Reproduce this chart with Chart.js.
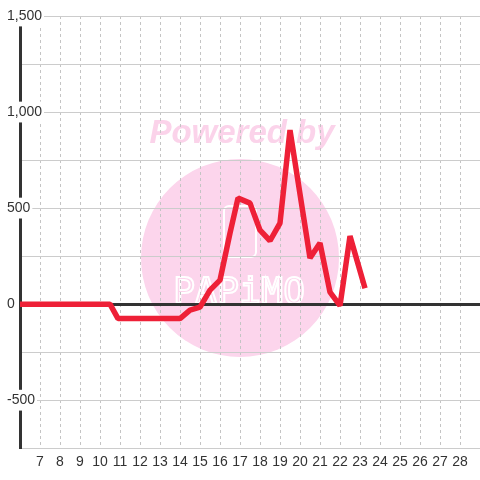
<!DOCTYPE html>
<html>
<head>
<meta charset="utf-8">
<script src="https://cdn.jsdelivr.net/npm/chart.js@4.4.0/dist/chart.umd.min.js"></script>
<style>
html,body{margin:0;padding:0;background:#fff}
#wrap{width:480px;height:480px}
</style>
</head>
<body>
<div id="wrap"><canvas id="mycanvas"></canvas></div>
<script>
// data
var days=[6,10.5,10.9,14,14.5,15,15.5,16,16.5,16.9,17.5,18,18.5,19,19.5,20.5,21,21.5,22,22.5,23.25];
var values=[0,0,-75,-75,-31,-16,73,125,370,552,526,385,330,422,906,240,318,62,-8,354,83];
var xTicks=[7,8,9,10,11,12,13,14,15,16,17,18,19,20,21,22,23,24,25,26,27,28];
var yTicks=[-750,-500,-250,0,250,500,750,1000,1250,1500];
var yLabels=[-500,0,500,1000,1500];

var points=[];
for(var i in days){
	points.push({x:days[i],y:values[i]});
}

// the pink watermark behind the grid
var watermark={
	id:'watermark',
	beforeDraw:function(chart){
		var ctx=chart.ctx;
		ctx.save();
		ctx.fillStyle='#fcd5ec';
		ctx.beginPath();
		ctx.arc(240,258,99,0,Math.PI*2);
		ctx.fill();

		ctx.strokeStyle='#fff';
		ctx.lineWidth=2;
		ctx.beginPath();
		ctx.roundRect(224,206,32,51,5);
		ctx.stroke();

		ctx.lineWidth=2;
		ctx.font='36px "DejaVu Sans Mono"';
		ctx.textAlign='center';
		ctx.textBaseline='alphabetic';
		var word='PAPiMO';
		for(var k=0;k<word.length;k++){
			ctx.strokeText(word[k],184+k*22,303);
		}

		ctx.fillStyle='#fbd3ea';
		ctx.font='italic bold 33px "Liberation Sans"';
		ctx.textBaseline='middle';
		ctx.fillText('Powered by',242,134);
		ctx.restore();
	}
};

var chartdata={
	datasets:[
		{
			data:points,
			borderColor:'#ee2037',
			borderWidth:5.5,
			borderJoinStyle:'bevel',
			pointRadius:0,
			fill:false,
			tension:0
		}
	]
};

var cxt=document.getElementById('mycanvas');
var lineGraph=new Chart(cxt,{
	type:'line',
	data:chartdata,
	plugins:[watermark],
	options:{
		responsive:true,
		maintainAspectRatio:false,
		animation:false,
		layout:{padding:{left:7,top:16,right:0,bottom:3}},
		plugins:{legend:{display:false},tooltip:{enabled:false}},
		scales:{
			x:{
				type:'linear',
				min:6,
				max:29,
				afterBuildTicks:function(s){
					s.ticks=xTicks.map(function(v){return {value:v};});
				},
				grid:{color:'#c4c4c4',lineWidth:1,drawTicks:false},
				border:{display:false,dash:[3,3]},
				ticks:{
					color:'#333',
					font:{family:'"Liberation Sans"',size:14},
					padding:6,
					maxRotation:0,
					autoSkip:false
				}
			},
			y:{
				type:'linear',
				min:-750,
				max:1500,
				afterBuildTicks:function(s){
					s.ticks=yTicks.map(function(v){return {value:v};});
				},
				afterFit:function(s){
					s.width=13;
					// labels run over the plot, so do not clip them to the axis box
					s._computeLabelArea=function(){return null;};
				},
				grid:{
					drawTicks:false,
					color:function(c){return c.tick&&c.tick.value===0?'#333':'#cccccc';},
					lineWidth:function(c){return c.tick&&c.tick.value===0?3:1;}
				},
				border:{display:true,color:'#333',width:3},
				ticks:{
					crossAlign:'far',
					padding:0,
					color:'#333',
					font:{family:'"Liberation Sans"',size:14},
					showLabelBackdrop:true,
					backdropColor:'#fff',
					backdropPadding:2,
					callback:function(v){
						return yLabels.indexOf(v)>=0?v.toLocaleString('en-US'):'';
					}
				}
			}
		}
	}
});
</script>
</body>
</html>
